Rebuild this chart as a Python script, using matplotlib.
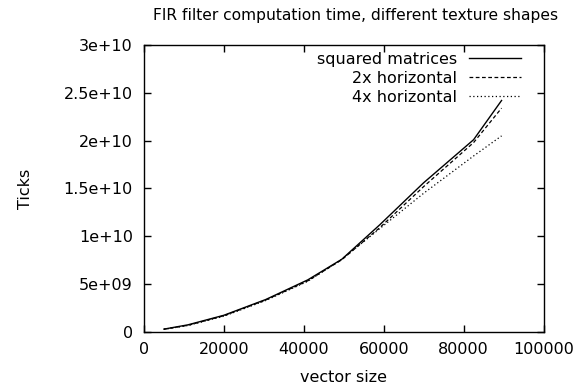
import matplotlib
matplotlib.use("Agg")
import matplotlib.pyplot as plt

plt.rcParams['font.family'] = ['DejaVu Sans']

vector_size = [5000, 11000, 20000, 30500, 41000, 49500, 59000, 70000, 82500, 89500]
squared = [0.30e9, 0.75e9, 1.75e9, 3.40e9, 5.45e9, 7.60e9, 11.2e9, 15.6e9, 20.1e9, 24.2e9]
horiz2x = [0.30e9, 0.70e9, 1.70e9, 3.35e9, 5.35e9, 7.55e9, 10.9e9, 15.2e9, 19.8e9, 23.4e9]
horiz4x = [0.28e9, 0.68e9, 1.65e9, 3.30e9, 5.30e9, 7.60e9, 10.8e9, 14.5e9, 18.4e9, 20.5e9]

xticks = [0, 20000, 40000, 60000, 80000, 100000]
yticks = [0, 5e9, 1e10, 1.5e10, 2e10, 2.5e10, 3e10]
ytick_labels = ['0', '5e+09', '1e+10', '1.5e+10', '2e+10', '2.5e+10', '3e+10']

FS = 11.5

fig = plt.figure(figsize=(5.78, 3.90), dpi=100)
ax = fig.add_axes([144/578, 1 - 332/390, (543.5 - 144)/578, (332 - 45)/390])

ax.plot(vector_size, squared, color='black', lw=1.0, linestyle='-', label='squared matrices')
ax.plot(vector_size, horiz2x, color='black', lw=0.9, linestyle=(0, (3, 2)), label='2x horizontal')
ax.plot(vector_size, horiz4x, color='black', lw=0.9, linestyle=(0, (1, 2)), label='4x horizontal')

ax.set_xlim(0, 100000)
ax.set_ylim(0, 3e10)
ax.set_xticks(xticks)
ax.set_xticklabels([str(t) for t in xticks])
ax.set_yticks(yticks)
ax.set_yticklabels(ytick_labels)
ax.tick_params(direction='in', length=5, width=1, top=True, right=True,
               labelsize=FS)
ax.tick_params(axis='y', pad=8)
ax.tick_params(axis='x', pad=7)
for s in ax.spines.values():
    s.set_linewidth(1.0)

ax.set_title('FIR filter computation time, different texture shapes', fontsize=11.2,
             pad=18, x=(355.5 - 144) / 399.5)
ax.set_xlabel('vector size', fontsize=FS, labelpad=9.5)
ax.set_ylabel('Ticks', fontsize=FS, labelpad=22)

leg = ax.legend(loc='upper right', frameon=False, fontsize=FS, markerfirst=False,
                handlelength=3.25, handletextpad=0.75, labelspacing=0.25,
                borderaxespad=0.0, borderpad=0.0,
                bbox_to_anchor=((521 - 144) / 399.5, (332 - 52) / 287),
                bbox_transform=ax.transAxes)
for t in leg.get_texts():
    t.set_ha('right')
leg._legend_box.align = 'right'

fig.savefig('out.png', dpi=100)
